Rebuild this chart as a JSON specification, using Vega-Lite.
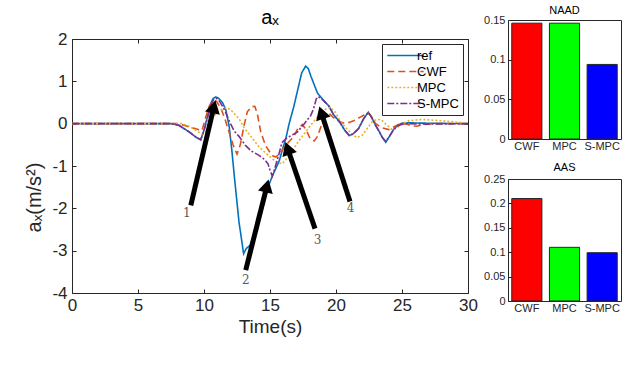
{
 "$schema": "https://vega.github.io/schema/vega-lite/v6.json",
 "background": "white",
 "padding": {"left": 24, "top": 4, "right": 2, "bottom": 2},
 "config": {
  "font": "Liberation Sans",
  "view": {"stroke": "#262626", "strokeWidth": 1},
  "axis": {"grid": false, "domain": false, "tickColor": "#262626", "tickSize": -4, "tickWidth": 1, "labelColor": "#262626", "titleColor": "#262626", "titleFontWeight": "normal", "labelFont": "Liberation Sans", "titleFont": "Liberation Sans", "labelFlush": false},
  "title": {"fontWeight": "normal", "color": "#000000", "font": "Liberation Sans"},
  "legend": {"orient": "top-right", "offset": 5, "padding": 4, "strokeColor": "#262626", "fillColor": "white", "labelFontSize": 13, "labelColor": "#000000", "labelFont": "Liberation Sans", "symbolType": "M-2.8,0H2.8", "symbolSize": 169, "symbolStrokeWidth": 1.6, "rowPadding": 1, "symbolOffset": 12, "labelOffset": 4}
 },
 "datasets": {
  "series": [
   {"s":"ref","t":0,"v":0},{"s":"ref","t":7.5,"v":0},{"s":"ref","t":8.1,"v":-0.04},{"s":"ref","t":8.9,"v":-0.2},{"s":"ref","t":9.4,"v":-0.32},{"s":"ref","t":9.75,"v":-0.38},{"s":"ref","t":10.0,"v":-0.15},{"s":"ref","t":10.25,"v":0.15},{"s":"ref","t":10.5,"v":0.47},{"s":"ref","t":10.7,"v":0.6},{"s":"ref","t":10.9,"v":0.63},{"s":"ref","t":11.1,"v":0.6},{"s":"ref","t":11.4,"v":0.5},{"s":"ref","t":11.65,"v":0.33},{"s":"ref","t":11.9,"v":-0.05},{"s":"ref","t":12.1,"v":-0.6},{"s":"ref","t":12.3,"v":-1.25},{"s":"ref","t":12.65,"v":-2.32},{"s":"ref","t":13.0,"v":-3.07},{"s":"ref","t":13.2,"v":-2.95},{"s":"ref","t":13.5,"v":-2.87},{"s":"ref","t":13.9,"v":-2.5},{"s":"ref","t":14.3,"v":-2.17},{"s":"ref","t":14.9,"v":-1.46},{"s":"ref","t":15.2,"v":-1.22},{"s":"ref","t":15.45,"v":-1.05},{"s":"ref","t":15.7,"v":-0.88},{"s":"ref","t":16.0,"v":-0.55},{"s":"ref","t":16.2,"v":-0.35},{"s":"ref","t":16.45,"v":0.0},{"s":"ref","t":16.8,"v":0.4},{"s":"ref","t":17.1,"v":0.8},{"s":"ref","t":17.4,"v":1.2},{"s":"ref","t":17.7,"v":1.36},{"s":"ref","t":17.9,"v":1.3},{"s":"ref","t":18.1,"v":1.12},{"s":"ref","t":18.35,"v":0.92},{"s":"ref","t":18.6,"v":0.72},{"s":"ref","t":19.0,"v":0.57},{"s":"ref","t":19.45,"v":0.42},{"s":"ref","t":19.8,"v":0.22},{"s":"ref","t":20.3,"v":0.03},{"s":"ref","t":20.65,"v":-0.15},{"s":"ref","t":21.0,"v":-0.28},{"s":"ref","t":21.3,"v":-0.24},{"s":"ref","t":21.7,"v":-0.12},{"s":"ref","t":22.1,"v":0.12},{"s":"ref","t":22.45,"v":0.27},{"s":"ref","t":22.7,"v":0.15},{"s":"ref","t":23.0,"v":-0.04},{"s":"ref","t":23.3,"v":-0.2},{"s":"ref","t":23.5,"v":-0.32},{"s":"ref","t":23.77,"v":-0.44},{"s":"ref","t":24.05,"v":-0.3},{"s":"ref","t":24.35,"v":-0.14},{"s":"ref","t":24.65,"v":-0.04},{"s":"ref","t":25.0,"v":0.01},{"s":"ref","t":25.5,"v":0.02},{"s":"ref","t":27,"v":0.01},{"s":"ref","t":30,"v":0},
   {"s":"CWF","t":0,"v":0},{"s":"CWF","t":8.0,"v":0},{"s":"CWF","t":8.5,"v":-0.04},{"s":"CWF","t":9.0,"v":-0.09},{"s":"CWF","t":9.5,"v":-0.13},{"s":"CWF","t":9.85,"v":-0.16},{"s":"CWF","t":10.1,"v":0.12},{"s":"CWF","t":10.4,"v":0.42},{"s":"CWF","t":10.7,"v":0.55},{"s":"CWF","t":10.95,"v":0.53},{"s":"CWF","t":11.3,"v":0.35},{"s":"CWF","t":11.6,"v":0.1},{"s":"CWF","t":11.9,"v":-0.2},{"s":"CWF","t":12.2,"v":-0.5},{"s":"CWF","t":12.5,"v":-0.72},{"s":"CWF","t":12.75,"v":-0.5},{"s":"CWF","t":13.03,"v":-0.05},{"s":"CWF","t":13.28,"v":0.28},{"s":"CWF","t":13.6,"v":0.4},{"s":"CWF","t":13.85,"v":0.41},{"s":"CWF","t":14.05,"v":0.22},{"s":"CWF","t":14.3,"v":-0.2},{"s":"CWF","t":14.67,"v":-0.52},{"s":"CWF","t":15.0,"v":-0.68},{"s":"CWF","t":15.2,"v":-0.76},{"s":"CWF","t":15.45,"v":-0.79},{"s":"CWF","t":15.75,"v":-0.7},{"s":"CWF","t":16.1,"v":-0.55},{"s":"CWF","t":16.4,"v":-0.44},{"s":"CWF","t":16.8,"v":-0.3},{"s":"CWF","t":17.1,"v":-0.12},{"s":"CWF","t":17.45,"v":-0.02},{"s":"CWF","t":17.75,"v":-0.15},{"s":"CWF","t":18.05,"v":-0.36},{"s":"CWF","t":18.35,"v":-0.41},{"s":"CWF","t":18.6,"v":-0.3},{"s":"CWF","t":18.85,"v":-0.08},{"s":"CWF","t":19.2,"v":0.19},{"s":"CWF","t":19.55,"v":0.22},{"s":"CWF","t":19.97,"v":0.1},{"s":"CWF","t":20.5,"v":0.02},{"s":"CWF","t":21.0,"v":0.03},{"s":"CWF","t":21.45,"v":0.08},{"s":"CWF","t":21.8,"v":0.15},{"s":"CWF","t":22.1,"v":0.2},{"s":"CWF","t":22.4,"v":0.26},{"s":"CWF","t":22.65,"v":0.18},{"s":"CWF","t":23.0,"v":0.0},{"s":"CWF","t":23.5,"v":-0.1},{"s":"CWF","t":24.0,"v":-0.14},{"s":"CWF","t":24.4,"v":-0.07},{"s":"CWF","t":24.8,"v":-0.01},{"s":"CWF","t":25.3,"v":0.0},{"s":"CWF","t":25.7,"v":-0.05},{"s":"CWF","t":26.1,"v":-0.06},{"s":"CWF","t":26.6,"v":-0.02},{"s":"CWF","t":27.5,"v":0},{"s":"CWF","t":30,"v":0},
   {"s":"MPC","t":0,"v":0},{"s":"MPC","t":8.3,"v":0},{"s":"MPC","t":8.8,"v":-0.05},{"s":"MPC","t":9.3,"v":-0.14},{"s":"MPC","t":9.85,"v":-0.25},{"s":"MPC","t":10.1,"v":-0.2},{"s":"MPC","t":10.35,"v":-0.05},{"s":"MPC","t":10.6,"v":0.13},{"s":"MPC","t":11.1,"v":0.29},{"s":"MPC","t":11.5,"v":0.36},{"s":"MPC","t":11.8,"v":0.37},{"s":"MPC","t":12.1,"v":0.3},{"s":"MPC","t":12.65,"v":0.12},{"s":"MPC","t":13.0,"v":-0.08},{"s":"MPC","t":13.4,"v":-0.24},{"s":"MPC","t":14.17,"v":-0.55},{"s":"MPC","t":14.7,"v":-0.7},{"s":"MPC","t":15.17,"v":-0.83},{"s":"MPC","t":15.6,"v":-0.92},{"s":"MPC","t":15.93,"v":-0.95},{"s":"MPC","t":16.44,"v":-0.75},{"s":"MPC","t":17.2,"v":-0.4},{"s":"MPC","t":18.1,"v":-0.03},{"s":"MPC","t":18.7,"v":0.2},{"s":"MPC","t":19.2,"v":0.34},{"s":"MPC","t":19.55,"v":0.39},{"s":"MPC","t":19.95,"v":0.27},{"s":"MPC","t":20.3,"v":0.08},{"s":"MPC","t":20.7,"v":-0.08},{"s":"MPC","t":21.2,"v":-0.25},{"s":"MPC","t":21.6,"v":-0.33},{"s":"MPC","t":22.0,"v":-0.27},{"s":"MPC","t":22.4,"v":-0.1},{"s":"MPC","t":22.75,"v":0.05},{"s":"MPC","t":23.1,"v":0.1},{"s":"MPC","t":23.4,"v":0.1},{"s":"MPC","t":23.8,"v":-0.02},{"s":"MPC","t":24.3,"v":-0.15},{"s":"MPC","t":24.9,"v":-0.04},{"s":"MPC","t":25.5,"v":0.07},{"s":"MPC","t":26.5,"v":0.1},{"s":"MPC","t":28,"v":0.07},{"s":"MPC","t":29,"v":0.04},{"s":"MPC","t":30,"v":0.01},
   {"s":"S-MPC","t":0,"v":0},{"s":"S-MPC","t":7.5,"v":0},{"s":"S-MPC","t":8.1,"v":-0.04},{"s":"S-MPC","t":8.9,"v":-0.2},{"s":"S-MPC","t":9.4,"v":-0.32},{"s":"S-MPC","t":9.75,"v":-0.38},{"s":"S-MPC","t":10.0,"v":-0.17},{"s":"S-MPC","t":10.25,"v":0.12},{"s":"S-MPC","t":10.5,"v":0.42},{"s":"S-MPC","t":10.75,"v":0.58},{"s":"S-MPC","t":10.95,"v":0.6},{"s":"S-MPC","t":11.2,"v":0.52},{"s":"S-MPC","t":11.6,"v":0.3},{"s":"S-MPC","t":11.9,"v":0.07},{"s":"S-MPC","t":12.3,"v":-0.18},{"s":"S-MPC","t":12.65,"v":-0.3},{"s":"S-MPC","t":13.16,"v":-0.52},{"s":"S-MPC","t":13.6,"v":-0.65},{"s":"S-MPC","t":14.17,"v":-0.75},{"s":"S-MPC","t":14.6,"v":-0.85},{"s":"S-MPC","t":14.85,"v":-0.95},{"s":"S-MPC","t":15.0,"v":-1.1},{"s":"S-MPC","t":15.18,"v":-1.24},{"s":"S-MPC","t":15.4,"v":-1.02},{"s":"S-MPC","t":15.65,"v":-0.75},{"s":"S-MPC","t":15.9,"v":-0.45},{"s":"S-MPC","t":16.19,"v":-0.36},{"s":"S-MPC","t":16.6,"v":-0.28},{"s":"S-MPC","t":17.07,"v":-0.2},{"s":"S-MPC","t":17.6,"v":0.0},{"s":"S-MPC","t":18.08,"v":0.19},{"s":"S-MPC","t":18.3,"v":0.35},{"s":"S-MPC","t":18.5,"v":0.58},{"s":"S-MPC","t":18.65,"v":0.64},{"s":"S-MPC","t":18.85,"v":0.6},{"s":"S-MPC","t":19.0,"v":0.56},{"s":"S-MPC","t":19.45,"v":0.42},{"s":"S-MPC","t":19.8,"v":0.22},{"s":"S-MPC","t":20.3,"v":0.03},{"s":"S-MPC","t":20.65,"v":-0.15},{"s":"S-MPC","t":21.0,"v":-0.28},{"s":"S-MPC","t":21.3,"v":-0.24},{"s":"S-MPC","t":21.7,"v":-0.12},{"s":"S-MPC","t":22.1,"v":0.12},{"s":"S-MPC","t":22.45,"v":0.27},{"s":"S-MPC","t":22.7,"v":0.15},{"s":"S-MPC","t":23.0,"v":-0.04},{"s":"S-MPC","t":23.3,"v":-0.2},{"s":"S-MPC","t":23.5,"v":-0.32},{"s":"S-MPC","t":23.77,"v":-0.42},{"s":"S-MPC","t":24.05,"v":-0.3},{"s":"S-MPC","t":24.35,"v":-0.15},{"s":"S-MPC","t":24.65,"v":-0.06},{"s":"S-MPC","t":25.0,"v":-0.01},{"s":"S-MPC","t":25.5,"v":0.0},{"s":"S-MPC","t":27,"v":-0.01},{"s":"S-MPC","t":30,"v":0}
  ],
  "arrows": [
   {"label":"1","t0":9.0,"v0":-1.93,"t1":10.75,"v1":0.40,"tl":8.69,"vl":-2.11,"heading":13},
   {"label":"2","t0":13.16,"v0":-3.46,"t1":14.77,"v1":-1.47,"tl":13.16,"vl":-3.70,"heading":14},
   {"label":"3","t0":18.41,"v0":-2.48,"t1":16.33,"v1":-0.58,"tl":18.6,"vl":-2.74,"heading":341},
   {"label":"4","t0":21.06,"v0":-1.84,"t1":18.89,"v1":0.26,"tl":21.1,"vl":-1.99,"heading":342}
  ],
  "naad": [{"method":"CWF","value":0.146},{"method":"MPC","value":0.146},{"method":"S-MPC","value":0.094}],
  "aas": [{"method":"CWF","value":0.21},{"method":"MPC","value":0.11},{"method":"S-MPC","value":0.099}]
 },
 "spacing": 5,
 "resolve": {"scale": {"color": "independent"}, "legend": {"color": "independent", "strokeDash": "independent"}},
 "hconcat": [
  {
   "spacing": 1,
   "resolve": {"legend": {"color": "independent", "strokeDash": "independent"}},
   "vconcat": [
    {
     "width": 396, "height": 8,
     "view": {"stroke": null},
     "data": {"values": [{"label": "aₓ"}]},
     "mark": {"type": "text", "fontSize": 20, "baseline": "alphabetic", "color": "#000000"},
     "encoding": {"text": {"field": "label", "type": "nominal"}}
    },
    {
     "width": 396, "height": 254,
     "layer": [
      {
       "data": {"name": "series"},
       "mark": {"type": "line", "strokeWidth": 1.6, "clip": true},
       "encoding": {
        "x": {"field": "t", "type": "quantitative", "scale": {"domain": [0, 30], "nice": false, "zero": false},
              "axis": {"orient": "bottom", "values": [0,5,10,15,20,25,30], "labelFontSize": 17, "labelPadding": 8, "title": "Time(s)", "titleFontSize": 19, "titlePadding": 4, "labelExpr": "'' + datum.value"}},
        "y": {"field": "v", "type": "quantitative", "scale": {"domain": [-4, 2], "nice": false},
              "axis": {"orient": "left", "values": [-4,-3,-2,-1,0,1,2], "labelFontSize": 17, "labelPadding": 9, "title": "aₓ(m/s²)", "titleFontSize": 20, "titlePadding": 7, "titleY": 158, "labelExpr": "'' + datum.value"}},
        "color": {"field": "s", "type": "nominal", "scale": {"domain": ["ref","CWF","MPC","S-MPC"], "range": ["#0072BD","#D95319","#EDB120","#7E2F8E"]},
                  "legend": {"title": null, "encode": {"symbols": {"update": {"strokeDash": {"signal": "datum.value === 'CWF' ? [7,4] : datum.value === 'MPC' ? [2,2] : datum.value === 'S-MPC' ? [7,2,2,2] : [1,0]"}}}}}},
        "strokeDash": {"field": "s", "type": "nominal", "scale": {"domain": ["ref","CWF","MPC","S-MPC"], "range": [[1,0],[7,4],[2,2],[7,2,2,2]]}, "legend": null}
       }
      },
      {
       "data": {"name": "arrows"},
       "mark": {"type": "rule", "color": "#000000", "strokeWidth": 5},
       "encoding": {
        "x": {"field": "t0", "type": "quantitative", "scale": {"domain": [0, 30], "nice": false, "zero": false}, "axis": null},
        "y": {"field": "v0", "type": "quantitative", "scale": {"domain": [-4, 2], "nice": false}, "axis": null},
        "x2": {"field": "t1"},
        "y2": {"field": "v1"}
       }
      },
      {
       "data": {"name": "arrows"},
       "mark": {"type": "point", "shape": "triangle-up", "filled": true, "color": "#000000", "size": 230, "opacity": 1},
       "encoding": {
        "x": {"field": "t1", "type": "quantitative", "scale": {"domain": [0, 30], "nice": false, "zero": false}, "axis": null},
        "y": {"field": "v1", "type": "quantitative", "scale": {"domain": [-4, 2], "nice": false}, "axis": null},
        "angle": {"field": "heading", "type": "quantitative", "scale": null}
       }
      },
      {
       "data": {"name": "arrows"},
       "mark": {"type": "text", "font": "DejaVu Serif", "fontSize": 12, "color": "#595959", "fill": "#595959"},
       "encoding": {
        "x": {"field": "tl", "type": "quantitative", "scale": {"domain": [0, 30], "nice": false, "zero": false}, "axis": {"orient": "top", "values": [0,5,10,15,20,25,30], "labels": false, "title": null}},
        "y": {"field": "vl", "type": "quantitative", "scale": {"domain": [-4, 2], "nice": false}, "axis": {"orient": "right", "values": [-4,-3,-2,-1,0,1,2], "labels": false, "title": null}},
        "text": {"field": "label", "type": "nominal"}
       }
      }
     ],
     "resolve": {"axis": {"x": "independent", "y": "independent"}}
    }
   ]
  },
  {
   "spacing": 9,
   "vconcat": [
    {
     "width": 113, "height": 119,
     "title": {"text": "NAAD", "fontSize": 11, "offset": -2},
     "data": {"name": "naad"},
     "mark": {"type": "bar", "stroke": "#262626", "strokeWidth": 1},
     "encoding": {
      "x": {"field": "method", "type": "nominal", "sort": null, "scale": {"paddingInner": 0.2, "paddingOuter": 0.1}, "axis": {"title": null, "labelAngle": 0, "labelFontSize": 11, "ticks": false, "labelPadding": 1}},
      "y": {"field": "value", "type": "quantitative", "scale": {"domain": [0, 0.15], "nice": false}, "axis": {"title": null, "values": [0, 0.05, 0.1, 0.15], "labelFontSize": 11, "labelPadding": 7, "labelExpr": "'' + datum.value"}},
      "color": {"field": "method", "type": "nominal", "sort": null, "scale": {"domain": ["CWF","MPC","S-MPC"], "range": ["#FF0000","#00FF00","#0000FF"]}, "legend": null}
     }
    },
    {
     "width": 113, "height": 122,
     "title": {"text": "AAS", "fontSize": 11, "offset": 0},
     "data": {"name": "aas"},
     "mark": {"type": "bar", "stroke": "#262626", "strokeWidth": 1},
     "encoding": {
      "x": {"field": "method", "type": "nominal", "sort": null, "scale": {"paddingInner": 0.2, "paddingOuter": 0.1}, "axis": {"title": null, "labelAngle": 0, "labelFontSize": 11, "ticks": false, "labelPadding": 1}},
      "y": {"field": "value", "type": "quantitative", "scale": {"domain": [0, 0.25], "nice": false}, "axis": {"title": null, "values": [0, 0.05, 0.1, 0.15, 0.2, 0.25], "labelFontSize": 11, "labelPadding": 7, "labelExpr": "'' + datum.value"}},
      "color": {"field": "method", "type": "nominal", "sort": null, "scale": {"domain": ["CWF","MPC","S-MPC"], "range": ["#FF0000","#00FF00","#0000FF"]}, "legend": null}
     }
    }
   ]
  }
 ]
}
